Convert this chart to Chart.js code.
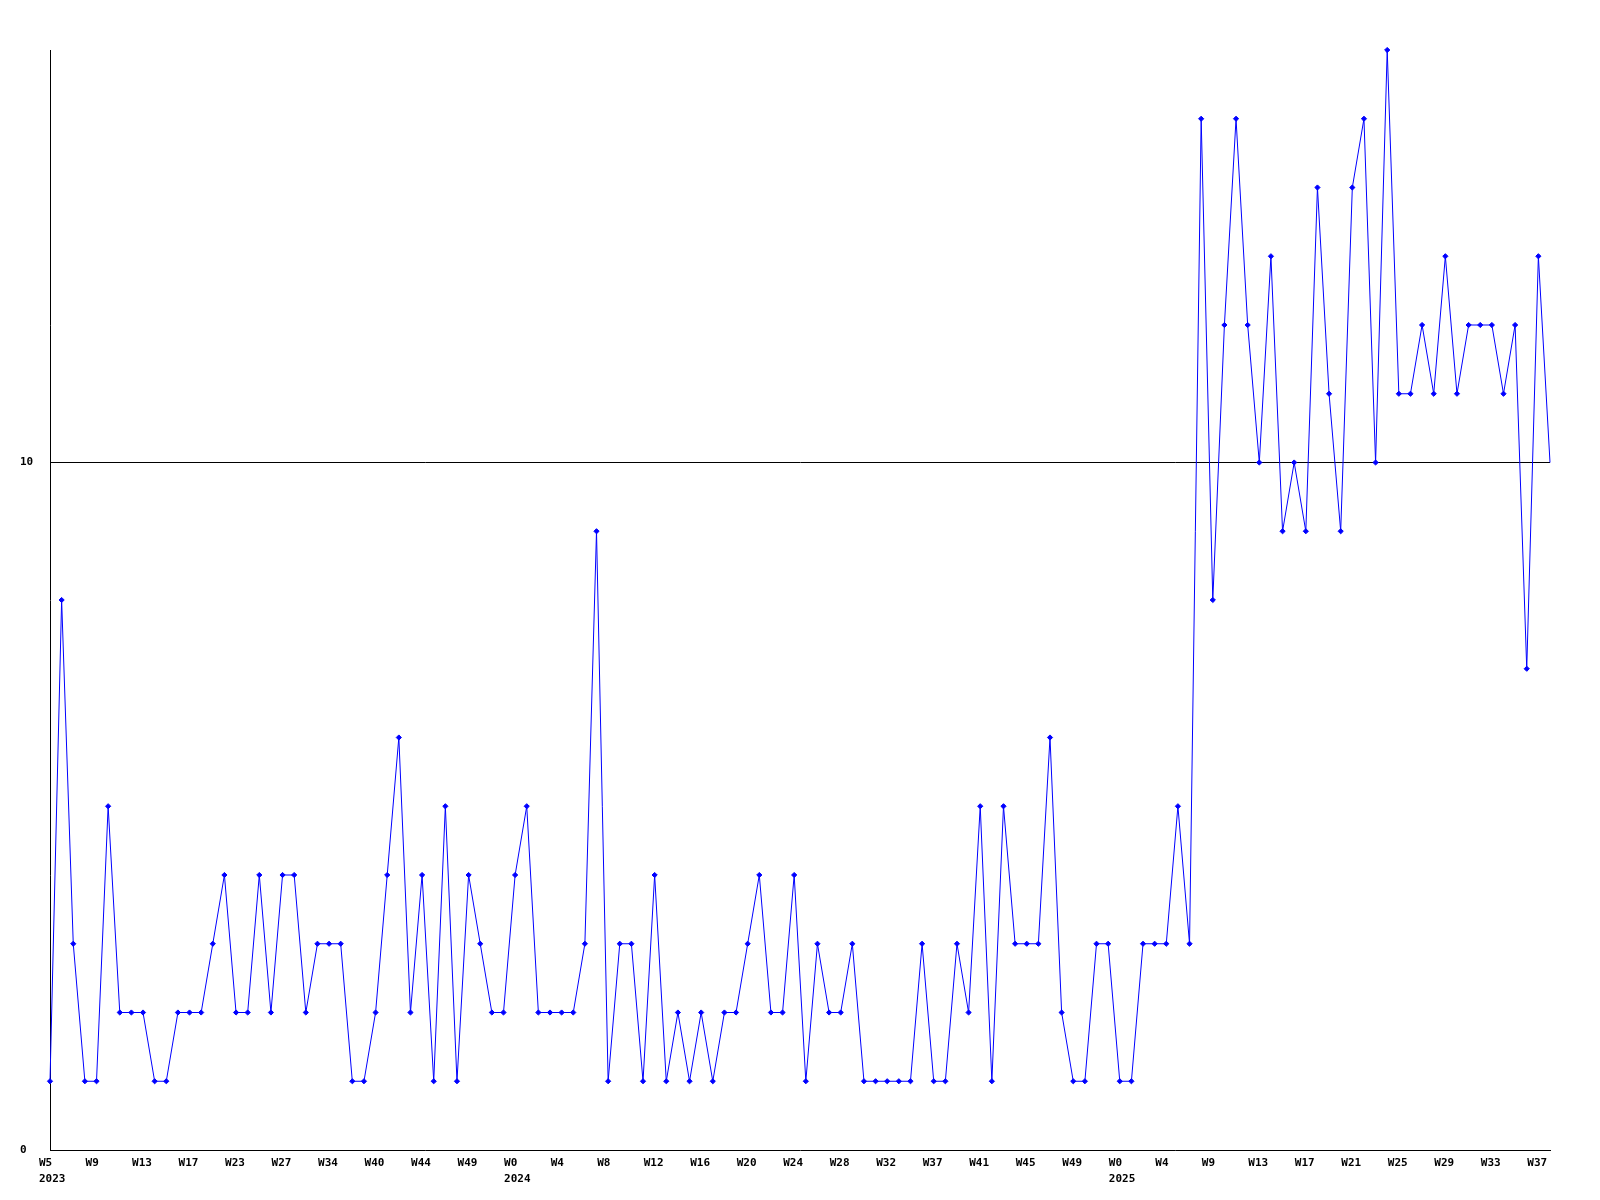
<!DOCTYPE html>
<html>
<head>
<meta charset="utf-8">
<script src="https://cdn.jsdelivr.net/npm/chart.js@4/dist/chart.umd.min.js"></script>
<style>
  html, body { margin: 0; padding: 0; background: #ffffff; }
  #wrap { width: 1600px; height: 1200px; position: relative; }
  canvas { display: block; }
</style>
</head>
<body>
<div id="wrap"><canvas id="c" width="1600" height="1200"></canvas></div>
<script>
// Tick labels, one per 4 weekly points (week, optional year line)
const tickWeeks = ['W5','W9','W13','W17','W23','W27','W34','W40','W44','W49',
                   'W0','W4','W8','W12','W16','W20','W24','W28','W32','W37','W41','W45','W49',
                   'W0','W4','W9','W13','W17','W21','W25','W29','W33','W37'];
const tickYears = ['2023','','','','','','','','','',
                   '2024','','','','','','','','','','','','',
                   '2025','','','','','','','','',''];
const labelEvery = 4;

// Weekly values
const values = [
  1, 8, 3, 1, 1, 5, 2, 2, 2, 1,
  1, 2, 2, 2, 3, 4, 2, 2, 4, 2,
  4, 4, 2, 3, 3, 3, 1, 1, 2, 4,
  6, 2, 4, 1, 5, 1, 4, 3, 2, 2,
  4, 5, 2, 2, 2, 2, 3, 9, 1, 3,
  3, 1, 4, 1, 2, 1, 2, 1, 2, 2,
  3, 4, 2, 2, 4, 1, 3, 2, 2, 3,
  1, 1, 1, 1, 1, 3, 1, 1, 3, 2,
  5, 1, 5, 3, 3, 3, 6, 2, 1, 1,
  3, 3, 1, 1, 3, 3, 3, 5, 3, 15,
  8, 12, 15, 12, 10, 13, 9, 10, 9, 14,
  11, 9, 14, 15, 10, 16, 11, 11, 12, 11,
  13, 11, 12, 12, 12, 11, 12, 7, 13, 10
];

const yTickValues = [0, 10];
const yMin = 0, yMax = 16;

const categories = values.map((v, i) => {
  if (i % labelEvery !== 0) return '';
  const k = i / labelEvery;
  return tickYears[k] ? [tickWeeks[k], tickYears[k]] : [tickWeeks[k]];
});

const FONT = { family: "'DejaVu Sans Mono', 'Liberation Mono', monospace", size: 11, weight: 'bold', lineHeight: '16px' };

new Chart(document.getElementById('c'), {
  type: 'line',
  data: {
    labels: categories,
    datasets: [{
      data: values,
      borderColor: '#0000ff',
      backgroundColor: '#0000ff',
      borderWidth: 1,
      tension: 0,
      fill: false,
      clip: false,
      pointStyle: 'rectRot',
      pointRadius: ctx => ctx.dataIndex === values.length - 1 ? 0 : 2.6,
      pointBorderWidth: 1,
      pointBackgroundColor: '#0000ff',
      pointBorderColor: '#0000ff'
    }]
  },
  options: {
    responsive: false,
    animation: false,
    devicePixelRatio: 1,
    layout: { padding: { left: 20, top: 50, right: 50, bottom: 0 } },
    plugins: { legend: { display: false }, tooltip: { enabled: false }, title: { display: false } },
    scales: {
      x: {
        type: 'category',
        offset: false,
        grid: { display: false, drawTicks: false },
        border: { display: true, color: '#000000', width: 1 },
        ticks: {
          autoSkip: false,
          maxRotation: 0,
          minRotation: 0,
          align: 'start',
          labelOffset: -11,
          padding: 5,
          color: '#000000',
          font: FONT
        },
        afterFit: s => { s.height = 50; }
      },
      y: {
        min: yMin,
        max: yMax,
        afterBuildTicks: axis => { axis.ticks = yTickValues.map(v => ({ value: v })); },
        grid: {
          drawTicks: false,
          color: ctx => (ctx.tick && ctx.tick.value === 10) ? '#000000' : 'rgba(0,0,0,0)',
          lineWidth: 1
        },
        border: { display: true, color: '#000000', width: 1 },
        ticks: {
          crossAlign: 'far',
          padding: 4,
          color: '#000000',
          font: FONT
        },
        afterFit: s => { s.width = 30; }
      }
    }
  }
});
</script>
</body>
</html>
